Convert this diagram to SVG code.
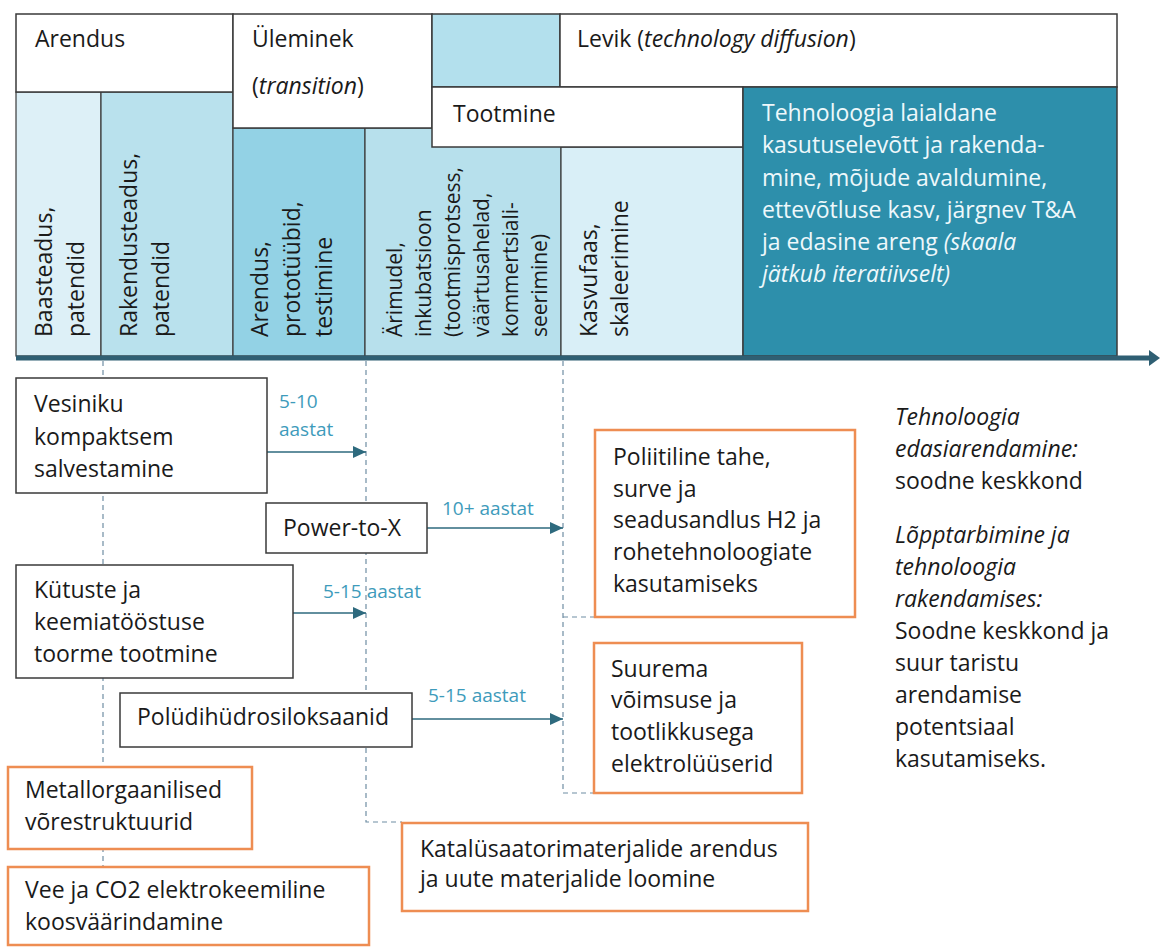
<svg xmlns="http://www.w3.org/2000/svg" width="1160" height="947" viewBox="0 0 1160 947">
<style>
text{font-family:"Open Sans","Noto Sans","DejaVu Sans",sans-serif;font-size:23px;fill:#1a1a1a}
.it{font-style:italic}
.hb{fill:#fff;stroke:#3a3a3a;stroke-width:1.5}
.col{stroke:#3a3a3a;stroke-width:1.2}
.nb{fill:#fff;stroke:#3a3a3a;stroke-width:1.5}
.ob{fill:#fff;stroke:#ee8d52;stroke-width:2.5}
.dash{fill:none;stroke:#6f8ea3;stroke-width:1.2;stroke-dasharray:5 4}
.arr{fill:none;stroke:#2e6a7e;stroke-width:1.6;marker-end:url(#ah)}
.lbl{font-size:19px;fill:#3e9bbb}
.wt{fill:#eef8fb}
.sm{font-size:21px}
</style>
<defs>
<marker id="ah" markerUnits="userSpaceOnUse" markerWidth="14" markerHeight="14" refX="13" refY="7" orient="auto">
<path d="M0,1 L13,7 L0,13 z" fill="#2e6a7e"/>
</marker>
</defs>
<rect width="1160" height="947" fill="#fff"/>

<g id="columns">
<rect class="col" x="16" y="92" width="85" height="264" fill="#ddf0f7"/>
<rect class="col" x="101" y="92" width="132" height="264" fill="#b9e1ed"/>
<rect class="col" x="233" y="128" width="132" height="228" fill="#93d2e5"/>
<rect class="col" x="365" y="128" width="196" height="228" fill="#b7e0ec"/>
<rect class="col" x="561" y="147" width="182" height="209" fill="#d9eff7"/>
<text transform="translate(52,337) rotate(-90)"><tspan x="0" y="0">Baasteadus,</tspan><tspan x="0" dy="32">patendid</tspan></text>
<text transform="translate(137,337) rotate(-90)"><tspan x="0" y="0">Rakendusteadus,</tspan><tspan x="0" dy="32">patendid</tspan></text>
<text transform="translate(268,337) rotate(-90)"><tspan x="0" y="0">Arendus,</tspan><tspan x="0" dy="32">prototüübid,</tspan><tspan x="0" dy="32">testimine</tspan></text>
<text class="sm" transform="translate(402,337) rotate(-90)"><tspan x="0" y="0">Ärimudel,</tspan><tspan x="0" dy="29">inkubatsioon</tspan><tspan x="0" dy="29">(tootmisprotsess,</tspan><tspan x="0" dy="29">väärtusahelad,</tspan><tspan x="0" dy="29">kommertsiali-</tspan><tspan x="0" dy="29">seerimine)</tspan></text>
<text transform="translate(597,337) rotate(-90)"><tspan x="0" y="0">Kasvufaas,</tspan><tspan x="0" dy="31">skaleerimine</tspan></text>
</g>

<g id="header">
<rect id="arendus" class="hb" x="16" y="14" width="217" height="78"/>
<text x="35" y="47">Arendus</text>
<rect id="uleminek" class="hb" x="233" y="14" width="199" height="114"/>
<text x="252" y="47">Üleminek</text>
<text x="252" y="94">(<tspan class="it">transition</tspan>)</text>
<rect id="cyan" class="hb" x="432" y="14" width="128" height="73" style="fill:#b3e0ed"/>
<rect id="levik" class="hb" x="560" y="14" width="557" height="73"/>
<text x="577" y="47">Levik (<tspan class="it">technology diffusion</tspan>)</text>
<rect id="tootmine" class="hb" x="432" y="87" width="311" height="60"/>
<text x="453" y="122">Tootmine</text>
<rect id="dark" x="743" y="87" width="374" height="269" fill="#2d8fab" stroke="#3a3a3a" stroke-width="1.5"/>
<text class="wt" x="762" y="121">Tehnoloogia laialdane</text>
<text class="wt" x="762" y="153">kasutuselevõtt ja rakenda-</text>
<text class="wt" x="762" y="186">mine, mõjude avaldumine,</text>
<text class="wt" x="762" y="218">ettevõtluse kasv, järgnev T&amp;A</text>
<text class="wt" x="762" y="250">ja edasine areng <tspan class="it">(skaala</tspan></text>
<text class="wt it" x="762" y="282">jätkub iteratiivselt)</text>
</g>

<g id="axis">
<line x1="16" y1="358" x2="1152" y2="358" stroke="#2f5f73" stroke-width="5"/>
<polygon points="1149,350 1160,358 1149,366" fill="#2f5f73"/>
</g>

<g id="connectors">
<path class="dash" d="M103,361 V867"/>
<path class="dash" d="M366,361 V822 H402"/>
<path class="dash" d="M563,361 V793 H594"/>
<path class="dash" d="M563,617 H595"/>
<path class="arr" d="M267,452 H366"/>
<path class="arr" d="M427,528 H563"/>
<path class="arr" d="M293,613 H366"/>
<path class="arr" d="M412,719 H563"/>
<text class="lbl" x="279" y="408">5-10</text>
<text class="lbl" x="279" y="436">aastat</text>
<text class="lbl" x="442" y="515">10+ aastat</text>
<text class="lbl" x="323" y="598">5-15 aastat</text>
<text class="lbl" x="428" y="702">5-15 aastat</text>
</g>

<g id="vesiniku">
<rect class="nb" x="16" y="378" width="251" height="115"/>
<text x="34" y="412">Vesiniku</text>
<text x="34" y="445">kompaktsem</text>
<text x="34" y="477">salvestamine</text>
</g>
<g id="powertox">
<rect class="nb" x="266" y="503" width="161" height="50"/>
<text x="283" y="536">Power-to-X</text>
</g>
<g id="kytuste">
<rect class="nb" x="16" y="565" width="277" height="113"/>
<text x="34" y="598">Kütuste ja</text>
<text x="34" y="630">keemiatööstuse</text>
<text x="34" y="662">toorme tootmine</text>
</g>
<g id="polydi">
<rect class="nb" x="120" y="693" width="292" height="54"/>
<text x="137" y="725">Polüdihüdrosiloksaanid</text>
</g>
<g id="metall">
<rect class="ob" x="8" y="767" width="244" height="82"/>
<text x="25" y="798">Metallorgaanilised</text>
<text x="25" y="830">võrestruktuurid</text>
</g>
<g id="vee">
<rect class="ob" x="8" y="867" width="361" height="78"/>
<text x="25" y="898">Vee ja CO2 elektrokeemiline</text>
<text x="25" y="930">koosväärindamine</text>
</g>
<g id="katalys">
<rect class="ob" x="402" y="823" width="406" height="88"/>
<text x="420" y="857">Katalüsaatorimaterjalide arendus</text>
<text x="420" y="887">ja uute materjalide loomine</text>
</g>
<g id="poliitiline">
<rect class="ob" x="595" y="430" width="260" height="187"/>
<text x="613" y="465">Poliitiline tahe,</text>
<text x="613" y="497">surve ja</text>
<text x="613" y="528">seadusandlus H2 ja</text>
<text x="613" y="560">rohetehnoloogiate</text>
<text x="613" y="592">kasutamiseks</text>
</g>
<g id="suurema">
<rect class="ob" x="594" y="643" width="208" height="150"/>
<text x="611" y="677">Suurema</text>
<text x="611" y="708">võimsuse ja</text>
<text x="611" y="740">tootlikkusega</text>
<text x="611" y="772">elektrolüüserid</text>
</g>
<g id="notes">
<text x="895" y="425" class="it">Tehnoloogia</text>
<text x="895" y="457" class="it">edasiarendamine:</text>
<text x="895" y="489">soodne keskkond</text>
<text x="895" y="543" class="it">Lõpptarbimine ja</text>
<text x="895" y="575" class="it">tehnoloogia</text>
<text x="895" y="607" class="it">rakendamises:</text>
<text x="895" y="639">Soodne keskkond ja</text>
<text x="895" y="671">suur taristu</text>
<text x="895" y="703">arendamise</text>
<text x="895" y="735">potentsiaal</text>
<text x="895" y="767">kasutamiseks.</text>
</g>
</svg>
